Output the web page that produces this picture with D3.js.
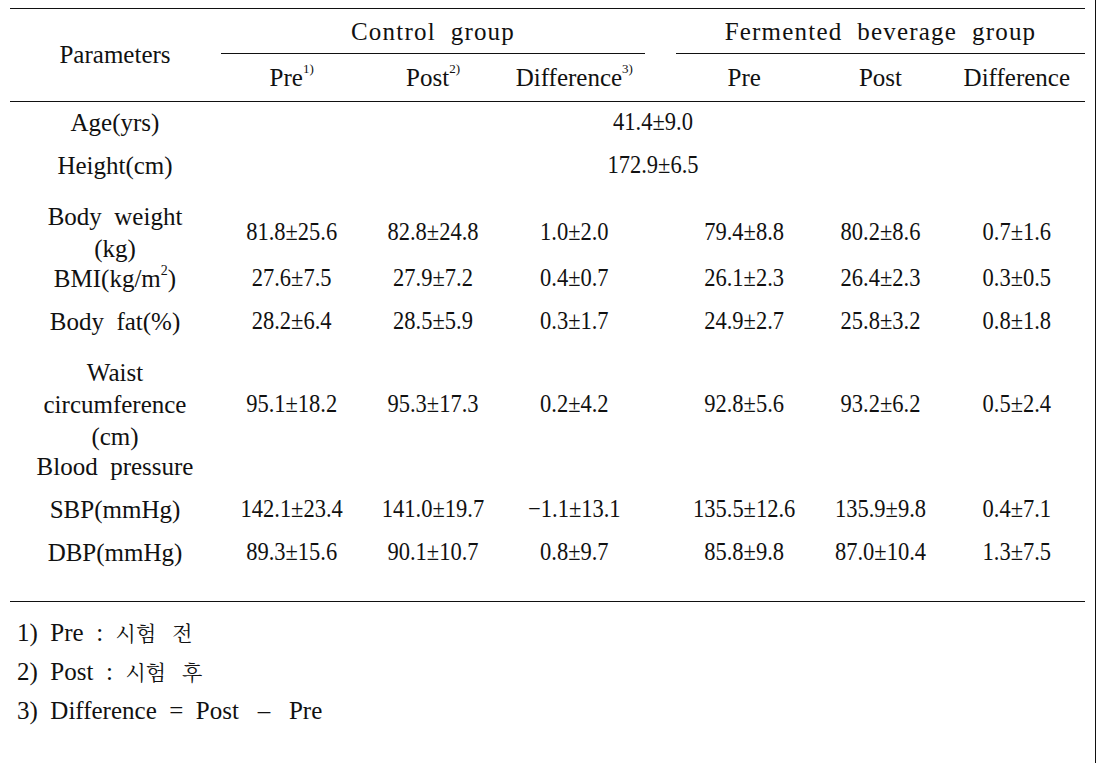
<!DOCTYPE html>
<html>
<head>
    <meta charset="utf-8">
    <title>Parameters table</title>
    <script src="https://cdnjs.cloudflare.com/ajax/libs/d3/7.8.5/d3.min.js"></script>
</head>
<style media="screen">
    body {
        margin: 0;
        background: #fff;
    }
    .rule {
        stroke: #111;
        stroke-width: 1.6;
        shape-rendering: crispEdges;
    }
</style>

<body>
    <script>
        var w = 1099, h = 763;
        var SERIF = "'Liberation Serif'", HANGUL = "'Noto Serif CJK KR'";
        var SP = "\u00a0";

        // data
        var groups = ["Control\u00a0 group", "Fermented\u00a0 beverage\u00a0 group"];
        var columns = ["Pre", "Post", "Difference"];
        var colNotes = [["1)", "2)", "3)"], ["", "", ""]];
        var rowLabels = [
            ["Age(yrs)"],
            ["Height(cm)"],
            ["Body\u00a0 weight", "(kg)"],
            ["BMI(kg/m", "2", ")"],
            ["Body\u00a0 fat(%)"],
            ["Waist", "circumference", "(cm)"],
            ["Blood\u00a0 pressure"],
            ["SBP(mmHg)"],
            ["DBP(mmHg)"]
        ];
        var superRows = [3];              // BMI label has a superscript
        var pooledMean = [41.4, 172.9, null, null, null, null, null, null, null];
        var pooledSD = [9.0, 6.5, null, null, null, null, null, null, null];

        var controlPreMean = [null, null, 81.8, 27.6, 28.2, 95.1, null, 142.1, 89.3];
        var controlPreSD = [null, null, 25.6, 7.5, 6.4, 18.2, null, 23.4, 15.6];
        var controlPostMean = [null, null, 82.8, 27.9, 28.5, 95.3, null, 141.0, 90.1];
        var controlPostSD = [null, null, 24.8, 7.2, 5.9, 17.3, null, 19.7, 10.7];
        var controlDiffMean = [null, null, 1.0, 0.4, 0.3, 0.2, null, -1.1, 0.8];
        var controlDiffSD = [null, null, 2.0, 0.7, 1.7, 4.2, null, 13.1, 9.7];

        var fermPreMean = [null, null, 79.4, 26.1, 24.9, 92.8, null, 135.5, 85.8];
        var fermPreSD = [null, null, 8.8, 2.3, 2.7, 5.6, null, 12.6, 9.8];
        var fermPostMean = [null, null, 80.2, 26.4, 25.8, 93.2, null, 135.9, 87.0];
        var fermPostSD = [null, null, 8.6, 2.3, 3.2, 6.2, null, 9.8, 10.4];
        var fermDiffMean = [null, null, 0.7, 0.3, 0.8, 0.5, null, 0.4, 1.3];
        var fermDiffSD = [null, null, 1.6, 0.5, 1.8, 2.4, null, 7.1, 7.5];

        // footnotes: pieces of [text, isHangul]
        var footnotes = [
            [["1)", 0], ["Pre", 0], [":", 0], ["시험", 1], ["전", 1]],
            [["2)", 0], ["Post", 0], [":", 0], ["시험", 1], ["후", 1]],
            [["3)", 0], ["Difference", 0], ["=", 0], ["Post", 0], ["–", 0], ["Pre", 0]]
        ];
        var footGaps = [
            [2, 2, 2, 3],
            [2, 2, 2, 3],
            [2, 2, 2, 3, 3]
        ];

        var series = [
            [[controlPreMean, controlPreSD], [controlPostMean, controlPostSD], [controlDiffMean, controlDiffSD]],
            [[fermPreMean, fermPreSD], [fermPostMean, fermPostSD], [fermDiffMean, fermDiffSD]]
        ];

        var fmt = d3.format(".1f");
        function ms(m, s) { return fmt(m) + "±" + fmt(s); }

        var svg = d3.select("body")
            .append("svg")
            .attr("width", w)
            .attr("height", h);

        // layout
        var left = 10, right = 1085;
        var labelX = 115;
        var groupX = [
            d3.scaleBand().domain(columns).range([221, 645]),
            d3.scaleBand().domain(columns).range([676, 1085])
        ];
        var fontSize = 25, numSize = 25, numScale = 0.9;

        // row line positions
        var lineGap = 32, rowGap = 43, multiTop = 8, multiAfter = 13;
        var rowY = [];
        var y = 122, prevMulti = false;
        rowLabels.forEach(function(lab, i) {
            var n = superRows.indexOf(i) >= 0 ? 1 : lab.length;
            if (i > 0) {
                y += rowGap - (prevMulti ? multiAfter : 0) + (n > 1 ? multiTop : 0);
            }
            var lines = d3.range(n).map(function(k) { return y + k * lineGap; });
            rowY.push(lines);
            y = lines[lines.length - 1];
            prevMulti = n > 1;
        });

        function label(x, yy, size) {
            return svg.append("text")
                .attr("x", x).attr("y", yy)
                .attr("text-anchor", "middle")
                .attr("dominant-baseline", "central")
                .attr("font-family", SERIF)
                .attr("font-size", size)
                .attr("fill", "#111");
        }

        // rules
        function rule(x1, x2, yy) {
            svg.append("line").attr("class", "rule")
                .attr("x1", x1).attr("x2", x2).attr("y1", yy).attr("y2", yy);
        }
        rule(left, right, 8.5);
        rule(groupX[0].range()[0], groupX[0].range()[1], 53.5);
        rule(groupX[1].range()[0], groupX[1].range()[1], 53.5);
        rule(left, right, 101.5);
        rule(left, right, 601.5);
        svg.append("line").attr("class", "rule")
            .attr("x1", 1095.5).attr("x2", 1095.5).attr("y1", 0).attr("y2", h);

        // header
        label(labelX, 54, fontSize).text("Parameters");

        groups.forEach(function(g, gi) {
            var sc = groupX[gi];
            label((sc.range()[0] + sc.range()[1]) / 2, 31, fontSize)
                .attr("letter-spacing", 1.2)
                .text(g);

            columns.forEach(function(c, ci) {
                var t = label(sc(c) + sc.bandwidth() / 2, 77, fontSize);
                t.append("tspan").text(c);
                if (colNotes[gi][ci]) {
                    t.append("tspan")
                        .attr("font-size", 13)
                        .attr("dy", -9)
                        .text(colNotes[gi][ci]);
                }
            });
        });

        // row labels
        rowLabels.forEach(function(lab, i) {
            if (superRows.indexOf(i) >= 0) {
                var t = label(labelX, rowY[i][0], fontSize);
                t.append("tspan").text(lab[0]);
                t.append("tspan").attr("font-size", 14).attr("dy", -8).text(lab[1]);
                t.append("tspan").attr("dy", 8).text(lab[2]);
                return;
            }
            lab.forEach(function(line, k) {
                label(labelX, rowY[i][k], fontSize).text(line);
            });
        });

        function numText(x, yy, s) {
            label(0, 0, numSize)
                .attr("transform", "translate(" + x + "," + yy + ") scale(" + numScale + ",1)")
                .text(s);
        }

        // pooled values
        var midX = (groupX[0].range()[0] + groupX[1].range()[1]) / 2;
        pooledMean.forEach(function(m, i) {
            if (m === null) return;
            numText(midX, d3.mean(rowY[i]), ms(m, pooledSD[i]));
        });

        // group values
        series.forEach(function(cols, gi) {
            var sc = groupX[gi];
            cols.forEach(function(pair, ci) {
                pair[0].forEach(function(m, i) {
                    if (m === null) return;
                    numText(sc(columns[ci]) + sc.bandwidth() / 2, d3.mean(rowY[i]), ms(m, pair[1][i]));
                });
            });
        });

        // footnotes
        footnotes.forEach(function(parts, i) {
            var t = label(17, 632 + i * 39, 25).attr("text-anchor", "start");
            parts.forEach(function(p, k) {
                var s = p[0] + (k < parts.length - 1 ? SP.repeat(footGaps[i][k]) : "");
                var ts = t.append("tspan").text(s);
                if (p[1]) ts.attr("font-family", HANGUL).attr("font-size", 21);
            });
        });
    </script>
</body>

</html>
